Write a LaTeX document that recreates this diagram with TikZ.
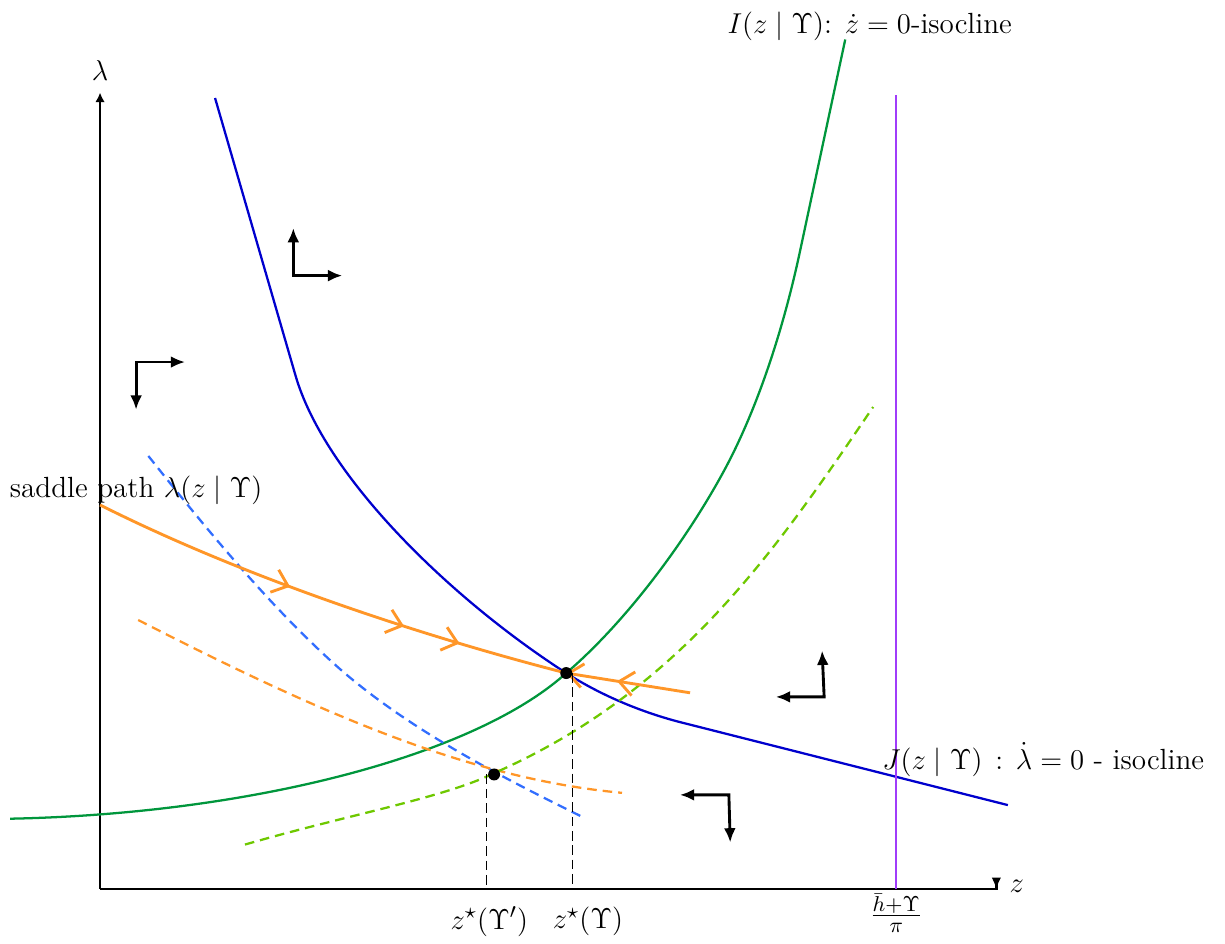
\documentclass[tikz,border=0pt]{standalone}
\usepackage{amsmath,amssymb}
\usepackage{xcolor}
\usepackage{tikz}
\usetikzlibrary{arrows.meta,positioning,calc,decorations.markings}
\definecolor{isoblue}{RGB}{0,0,205}
\definecolor{isogreen}{RGB}{0,150,60}
\definecolor{pathorange}{RGB}{255,150,40}
\definecolor{shiftblue}{RGB}{50,110,255}
\definecolor{shiftgreen}{RGB}{110,200,0}
\definecolor{boundpurple}{RGB}{160,60,250}

\begin{document}
\begin{tikzpicture}[
    every node/.style={font=\fontsize{12.2}{14.6}\selectfont},
    flowtip/.tip={Straight Barb[length=6pt,width=10pt]},
    axis/.style={line width=1pt},
    iso/.style={line width=0.95pt},
    shifted/.style={line width=0.95pt, dash pattern=on 4pt off 2.5pt},
    saddle/.style={line width=1.2pt, draw=pathorange},
    drop/.style={line width=0.6pt, dash pattern=on 4pt off 2pt},
    dot/.style={circle, fill=black, inner sep=0pt, minimum size=5pt},
    move/.style={line width=1.2pt, {Latex[length=6pt,width=5pt]}-{Latex[length=6pt,width=5pt]}}
]
\useasboundingbox (-1.47,-0.81) rectangle (16.53,13.06);

% axes
\draw[axis, -{Latex[length=4pt,width=4pt]}] (0,0) -- (0,11.70);
\draw[axis, -{Latex[length=5pt,width=4pt]}] (0,0) -- (13.17,0) -- ++(0,-0.01);
\node (lamlab) at (0,12.03) {$\lambda$};
\node (zlab) at (13.47,0.03) {$z$};

% isoclines
\draw[iso, isoblue] (1.69,11.62) -- (2.87,7.55) .. controls (3.30,6.05) and (5.17,4.25) .. (6.85,3.17)
    .. controls (7.35,2.85) and (7.94,2.60) .. (8.52,2.45) -- (13.34,1.23);
\draw[iso, isogreen] (-1.32,1.03) .. controls (2.2,1.1) and (5.5,1.95) .. (6.85,3.17)
    .. controls (7.76,3.95) and (8.66,5.18) .. (9.21,6.22)
    .. controls (9.63,7.02) and (10.02,8.12) .. (10.29,9.39) -- (10.95,12.48);
\draw[iso, boundpurple] (11.70,0) -- (11.70,11.67);

% shifted curves
\draw[shifted, shiftblue] (0.71,6.36) .. controls (1.52,5.34) and (2.42,4.24) .. (3.38,3.36)
    .. controls (4.41,2.41) and (5.82,1.68) .. (7.08,1.06);
\draw[shifted, pathorange] (0.56,3.95) .. controls (3.2,2.6) and (5.4,1.62) .. (7.67,1.41);
\draw[shifted, shiftgreen] (2.13,0.65) .. controls (3.57,1.07) and (5.07,1.34) .. (5.79,1.70)
    .. controls (8.535,2.906) and (9.955,5.013) .. (11.36,7.08);

% saddle path
\draw[saddle, postaction={decorate}, decoration={markings,
    mark=at position 0.417 with {\arrow{flowtip}},
    mark=at position 0.66 with {\arrow{flowtip}},
    mark=at position 0.777 with {\arrow{flowtip}}}]
    (0,5.64) .. controls (2.07,4.60) and (4.63,3.74) .. (6.85,3.17);
\draw[saddle, -{flowtip}, postaction={decorate}, decoration={markings,
    mark=at position 0.59 with {\arrow{flowtip}}}]
    (8.67,2.88) -- (6.85,3.17);

% steady states
\node[dot] (eq) at (6.85,3.17) {};
\node[dot] (eqnew) at (5.79,1.68) {};
\coordinate (zs) at (6.94,0);
\coordinate (zsnew) at (5.677,0);
\draw[drop] (eq -| zs) -- (zs);
\draw[drop] (eqnew -| zsnew) -- (zsnew);
\node (zsnewlab) at (5.72,-0.48) {$z^\star(\Upsilon')$};
\node (zslab) at (7.17,-0.48) {$z^\star(\Upsilon)$};
\node (barlab) at (11.70,-0.36) {$\frac{\bar h+\Upsilon}{\pi}$};

% phase arrows
\draw[move] (2.84,9.71) -- (2.84,9.01) -- (3.56,9.01);
\draw[move] (1.25,7.74) -- (0.53,7.74) -- (0.53,7.04);
\draw[move] (9.93,2.82) -- (10.64,2.82) -- (10.61,3.50);
\draw[move] (8.52,1.38) -- (9.24,1.38) -- (9.26,0.68);

% labels
\node (Ilab) at (11.31,12.67) {$I(z\mid\Upsilon)$: $\dot z=0$-isocline};
\node (Jlab) at (13.86,1.90) {$J(z\mid\Upsilon)\,:\,\dot\lambda=0$ - isocline};
\node (saddlelab) at (0.53,5.86) {saddle path $\lambda(z\mid\Upsilon)$};
\end{tikzpicture}
\end{document}
